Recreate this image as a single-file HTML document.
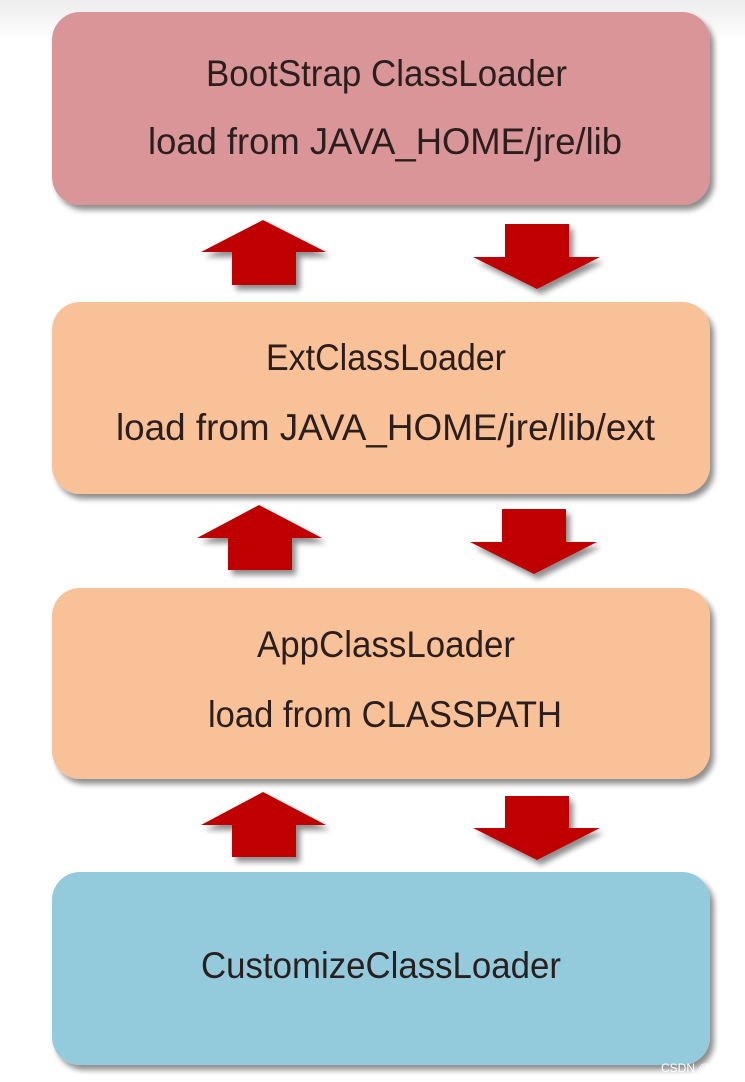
<!DOCTYPE html>
<html><head><meta charset="utf-8"><style>
html,body{margin:0;padding:0;background:#fff;width:745px;height:1082px;overflow:hidden}
.wm{font-family:"Liberation Sans","Noto Sans CJK SC",sans-serif}
</style></head><body>
<svg width="745" height="1082" viewBox="0 0 745 1082" xmlns="http://www.w3.org/2000/svg">
<defs>
<linearGradient id="top" x1="0" y1="0" x2="0" y2="1"><stop offset="0" stop-color="#ececec"/><stop offset="1" stop-color="#ffffff"/></linearGradient>
<filter id="sh" x="-10%" y="-10%" width="125%" height="130%"><feGaussianBlur in="SourceAlpha" stdDeviation="3"/><feOffset dx="4" dy="5"/><feComponentTransfer><feFuncA type="linear" slope="0.45"/></feComponentTransfer><feMerge><feMergeNode/><feMergeNode in="SourceGraphic"/></feMerge></filter>
</defs>
<rect x="0" y="0" width="745" height="40" fill="url(#top)"/>
<g filter="url(#sh)">
<rect x="52" y="12" width="658" height="193" rx="28" fill="#d99597"/>
<rect x="52" y="302" width="658" height="192" rx="28" fill="#f8c197"/>
<rect x="52" y="588" width="658" height="191" rx="28" fill="#f8c197"/>
<rect x="52" y="872" width="658" height="193" rx="28" fill="#93cbdd"/>
</g>
<g fill="#c00000" filter="url(#sh)">
<polygon points="263,220 326,252 296,252 296,285 232,285 232,252 201,252"/>
<polygon points="505,224 569,224 569,257 600,257 537,289 473,257 505,257"/>
<polygon points="259,505 322,538 292,538 292,570 228,570 228,538 197,538"/>
<polygon points="502,509 566,509 566,542 597,542 534,574 470,542 502,542"/>
<polygon points="263,792 326,825 296,825 296,857 232,857 232,825 201,825"/>
<polygon points="505,796 569,796 569,828 600,828 537,860 473,828 505,828"/>
</g>
<g font-family="Liberation Sans, sans-serif" font-size="37" fill="#2a1e1e">
<text x="206" y="86" textLength="361" lengthAdjust="spacingAndGlyphs">BootStrap ClassLoader</text>
<text x="148" y="154" textLength="474" lengthAdjust="spacingAndGlyphs">load from JAVA_HOME/jre/lib</text>
<text x="266" y="370" textLength="240" lengthAdjust="spacingAndGlyphs">ExtClassLoader</text>
<text x="116" y="440" textLength="539" lengthAdjust="spacingAndGlyphs">load from JAVA_HOME/jre/lib/ext</text>
<text x="257" y="657" textLength="258" lengthAdjust="spacingAndGlyphs">AppClassLoader</text>
<text x="208" y="727" textLength="354" lengthAdjust="spacingAndGlyphs">load from CLASSPATH</text>
<text x="201" y="978" textLength="360" lengthAdjust="spacingAndGlyphs">CustomizeClassLoader</text>
</g>
<text class="wm" x="661" y="1072" font-size="12" fill="#ffffff">CSDN @茂桑</text>
</svg>
</body></html>
